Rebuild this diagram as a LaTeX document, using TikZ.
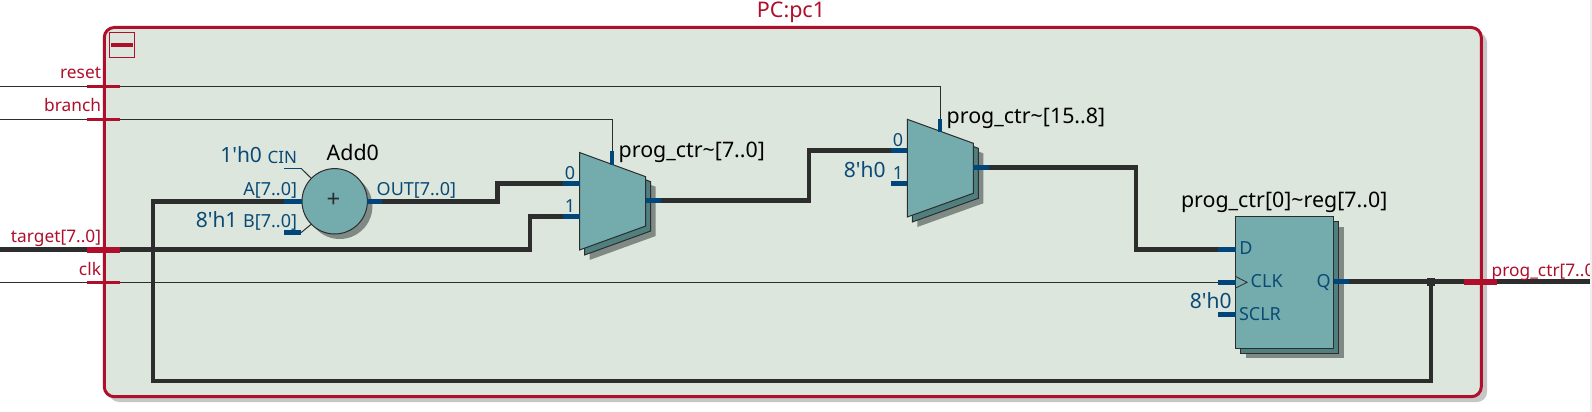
\documentclass[tikz,border=0pt]{standalone}
\usepackage{fontspec}
\usetikzlibrary{calc}
\setmainfont{Noto Sans}[Ligatures=TeXOff]
\definecolor{framered}{HTML}{B00F2B}
\definecolor{framefill}{HTML}{DDE6DD}
\definecolor{frameshadow}{HTML}{C6C6C6}
\definecolor{teal1}{HTML}{74ABAD}
\definecolor{teal2}{HTML}{4F7F7F}
\definecolor{bodyshadow}{HTML}{7F8A85}
\definecolor{stubblue}{HTML}{00467A}
\definecolor{wirecol}{HTML}{2D2D2D}
\definecolor{labelblue}{HTML}{0A4A75}
\tikzset{
  x=1pt,y=-1pt,
  busw/.style={draw=wirecol,line width=4.6pt,line join=miter},
  thinw/.style={draw=wirecol,line width=1pt},
  busstub/.style={draw=stubblue,line width=4.6pt},
  thinstub/.style={draw=stubblue,line width=1pt},
  portbar/.style={draw=framered,line width=3.2pt},
  busbar/.style={draw=framered,line width=5.6pt},
  body/.style={draw=wirecol,line width=1pt,fill=teal1,outer sep=0pt},
  under/.style={draw=wirecol,line width=1pt,fill=teal2},
  shade/.style={fill=bodyshadow,draw=none},
  txt/.style={inner sep=0pt,outer sep=0pt,font=\fontsize{#1}{#1}\selectfont},
  redl/.style={txt=17.3,text=framered,anchor=base east},
  redr/.style={txt=17.3,text=framered,anchor=base west},
  pinl/.style={txt=18,text=labelblue,anchor=base west},
  pinr/.style={txt=18,text=labelblue,anchor=base east},
  pinc/.style={txt=18,text=labelblue,anchor=base},
  const/.style={txt=21,text=labelblue,anchor=base east},
  title/.style={txt=21.4,text=black,anchor=base west},
}
\begin{document}
\begin{tikzpicture}
\useasboundingbox (0,0) rectangle (1592,412);
\fill[white] (0,0) rectangle (1592,412);
\begin{scope}
\clip (0,0) rectangle (1590,412);
% frame
\fill[frameshadow,rounded corners=10pt] (109,32.5) rectangle (1487,402);
\draw[draw=framered,line width=3pt,fill=framefill,rounded corners=10pt] (104.3,27.5) rectangle (1481.3,396.7);
\node[txt=21.5,text=framered,anchor=base] (title) at (791,18) {PC:pc1};
% collapse box
\draw[draw=framered,line width=.8pt] (109.5,32.5) rectangle (134.3,57.3);
\draw[draw=framered,line width=4pt] (111,44.8) -- (133,44.8);

% coordinates of free ends and pins
\coordinate (resetIn) at (0,86.3);
\coordinate (branchIn) at (0,119.3);
\coordinate (targetIn) at (0,249.7);
\coordinate (clkIn) at (0,282.3);
\coordinate (resetPort) at (120,86.3);
\coordinate (branchPort) at (120,119.3);
\coordinate (targetPort) at (120,249.7);
\coordinate (clkPort) at (120,282.3);
\coordinate (addA) at (284,201.3);
\coordinate (addAin) at (302,201.3);
\coordinate (addOut) at (367,201.3);
\coordinate (addOutEnd) at (382,201.3);
\coordinate (m1i0) at (563,183.7);
\coordinate (m1i1) at (563,216.7);
\coordinate (m1o) at (661,200.7);
\coordinate (m1s) at (612,150.7);
\coordinate (m2i0) at (891,150.7);
\coordinate (m2i1) at (891,183.7);
\coordinate (m2o) at (989,167.7);
\coordinate (m2s) at (940,119.3);
\coordinate (rD) at (1218,249.7);
\coordinate (rC) at (1218,282.3);
\coordinate (rS) at (1218,314.7);
\coordinate (rQ) at (1349,281.7);
\coordinate (jct) at (1431,281.7);
\coordinate (outEnd) at (1590,281.7);
\coordinate (fbTop) at (153,201.3);
\coordinate (fbBot) at (153,381);

% adder
\fill[bodyshadow] (339.7,206.3) circle (32.7);
\node[circle,body,minimum size=65.4pt,inner sep=0pt] (add) at (334.7,201.3) {};
\node[txt=24,text=wirecol] (plus) at (333.5,200) {+};

% mux 1
\fill[shade] (589.5,162.5) -- (655.7,186.7) -- (655.7,236) -- (589.5,260) -- cycle;
\draw[under] (584.5,157.5) -- (650.7,181.7) -- (650.7,231) -- (584.5,255) -- cycle;
\draw[body] (579.5,152.5) -- (645.7,176.7) -- (645.7,226) -- (579.5,250) -- cycle;
% mux 2
\fill[shade] (917.3,129.3) -- (983.3,153.3) -- (983.3,203.3) -- (917.3,227) -- cycle;
\draw[under] (912.3,124.3) -- (978.3,148.3) -- (978.3,198.3) -- (912.3,222) -- cycle;
\draw[body] (907.3,119.3) -- (973.3,143.3) -- (973.3,193.3) -- (907.3,217) -- cycle;
% register
\fill[bodyshadow] (1245.7,226.7) rectangle (1343.7,358.3);
\draw[under] (1240.7,221.7) rectangle (1338.7,353.3);
\node[rectangle,body,minimum width=98pt,minimum height=131.6pt,inner sep=0pt,anchor=north west] (reg) at (1235.7,216.7) {};

% wires
\draw[thinw] (resetIn) -- (resetPort) -- (940,86.3) -- (m2s);
\draw[thinw] (branchIn) -- (branchPort) -- (612,119.3) -- (m1s);
\draw[busw] (targetIn) -- (targetPort) -- (530,249.7) -- (530,216.7) -- (m1i1);
\draw[thinw] (clkIn) -- (clkPort) -- (rC);
\draw[busw] (addOutEnd) -- (497.3,201.3) -- (497.3,183.7) -- (m1i0);
\draw[busw] (m1o) -- (809,200.7) -- (809,150.7) -- (m2i0);
\draw[busw] (m2o) -- (1136,167.7) -- (1136,249.7) -- (rD);
\draw[busw] (rQ) -- (outEnd);
\draw[busw] (addA) -- (fbTop) -- (fbBot) -- (1431,381) -- (jct);
\fill[wirecol] ($(jct)+(-4,-4)$) rectangle ($(jct)+(4,4)$);

% stubs
\draw[busstub] (addA) -- (addAin);
\draw[busstub] (284,232.7) -- (301,232.7);
\draw[thinstub] (284,168.3) -- (301,168.3);
\draw[thinw] (301,168.3) -- (311.5,178.5);
\draw[thinw] (301,232.7) -- (311.5,224);
\draw[busstub] (add.east) -- (addOutEnd);
\draw[busstub] (m1i0) -- (579.5,183.7);
\draw[busstub] (m1i1) -- (579.5,216.7);
\draw[busstub] (m1s) -- (612,164.5);
\draw[busstub] (645.7,200.7) -- (m1o);
\draw[busstub] (m2i0) -- (907.3,150.7);
\draw[busstub] (m2i1) -- (907.3,183.7);
\draw[busstub] (m2s) -- (940,131.7);
\draw[busstub] (973.3,167.7) -- (m2o);
\draw[busstub] (rD) -- (1235.7,249.7);
\draw[busstub] (rC) -- (1235.7,282.3);
\draw[busstub] (rS) -- (1235.7,314.7);
\draw[busstub] (1333.7,281.7) -- (rQ);
\draw[draw=wirecol,line width=.8pt] (1235.7,276.5) -- (1247,282.3) -- (1235.7,288);

% port bars
\draw[portbar] (87.3,86.3) -- (120.3,86.3);
\draw[portbar] (87.3,119.3) -- (120.3,119.3);
\draw[busbar] (87,249.7) -- (120,249.7);
\draw[portbar] (87.3,282.3) -- (120.3,282.3);
\draw[busbar] (1463.7,281.7) -- (1497,281.7);

% labels
\node[redl] (lreset) at (101,78.5) {reset};
\node[redl] (lbranch) at (101,111.5) {branch};
\node[redl] (ltarget) at (101,242.5) {target[7..0]};
\node[redl] (lclk) at (101,275.5) {clk};
\node[redr] (lout) at (1491.7,276.5) {prog\_ctr[7..0]};

\node[title] (tadd) at (326.7,160.3) {Add0};
\node[title] (tm1) at (618.7,157.8) {prog\_ctr\char`~[7..0]};
\node[title] (tm2) at (946.7,123.8) {prog\_ctr\char`~[15..8]};
\node[title] (treg) at (1181,207.8) {prog\_ctr[0]\char`~reg[7..0]};

\node[const] (c1) at (262,162) {1'h0};
\node[const] (c2) at (237.5,227) {8'h1};
\node[const] (c3) at (885.5,177.6) {8'h0};
\node[const] (c4) at (1231.5,308) {8'h0};

\node[pinr,txt=17] (pcin) at (297,163) {CIN};
\node[pinr] (pa) at (297,195.5) {A[7..0]};
\node[pinr] (pb) at (297,227.8) {B[7..0]};
\node[pinl] (pout) at (376.7,195.5) {OUT[7..0]};
\node[pinc] (m1z) at (570,179) {0};
\node[pinc] (m1y) at (570,212) {1};
\node[pinc] (m2z) at (898,146) {0};
\node[pinc] (m2y) at (898,179) {1};
\node[pinl] (pd) at (1239.3,254.5) {D};
\node[pinl] (pclk) at (1250.7,287) {CLK};
\node[pinl] (pq) at (1316.7,287) {Q};
\node[pinl] (psclr) at (1239,320.5) {SCLR};
\end{scope}
\fill[black!6] (1590,0) rectangle (1592,412);
\end{tikzpicture}
\end{document}
